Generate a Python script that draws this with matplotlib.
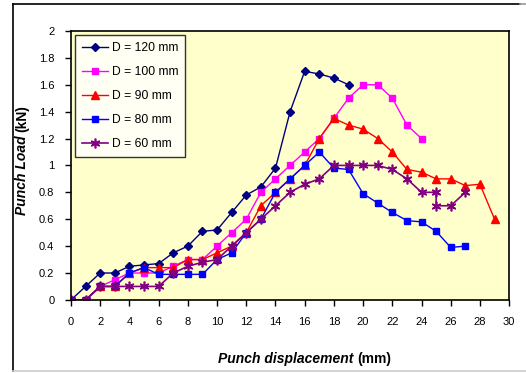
import matplotlib
matplotlib.use("Agg")
import matplotlib.pyplot as plt
from matplotlib.lines import Line2D

# displacement (mm) and punch load (kN) per punch diameter
x_120 = list(range(0, 20))
y_120 = [0, 0.1, 0.2, 0.2, 0.25, 0.26, 0.27, 0.35, 0.4, 0.51, 0.52, 0.65, 0.78, 0.84, 0.98, 1.4, 1.7, 1.68, 1.65, 1.6]

x_100 = list(range(0, 25))
y_100 = [0, 0, 0.1, 0.15, 0.2, 0.2, 0.2, 0.25, 0.3, 0.3, 0.4, 0.5, 0.6, 0.8, 0.9, 1.0, 1.1, 1.2, 1.35, 1.5, 1.6, 1.6, 1.5, 1.3, 1.2]

x_90 = list(range(0, 30))
y_90 = [0, 0, 0.1, 0.1, 0.2, 0.24, 0.24, 0.24, 0.3, 0.3, 0.35, 0.4, 0.5, 0.7, 0.8, 0.9, 1.0, 1.2, 1.35, 1.3, 1.27, 1.2, 1.1, 0.97, 0.95, 0.9, 0.9, 0.85, 0.86, 0.6]

x_80 = list(range(0, 28))
y_80 = [0, 0, 0.1, 0.1, 0.2, 0.24, 0.19, 0.19, 0.19, 0.19, 0.3, 0.35, 0.5, 0.6, 0.8, 0.9, 1.0, 1.1, 0.98, 0.97, 0.79, 0.72, 0.65, 0.59, 0.58, 0.51, 0.39, 0.4]

x_60 = [0, 1, 2, 3, 4, 5, 6, 7, 8, 9, 10, 11, 12, 13, 14, 15, 16, 17, 18, 19, 20, 21, 22, 23, 24, 25, 25, 26, 27]
y_60 = [0, 0, 0.1, 0.1, 0.1, 0.1, 0.1, 0.2, 0.25, 0.28, 0.3, 0.4, 0.5, 0.6, 0.7, 0.8, 0.86, 0.9, 1.0, 1.0, 1.0, 1.0, 0.97, 0.9, 0.8, 0.8, 0.7, 0.7, 0.8]

x_ticks = list(range(0, 31, 2))
y_ticks = [0, 0.2, 0.4, 0.6, 0.8, 1, 1.2, 1.4, 1.6, 1.8, 2]
y_tick_labels = ["0", "0.2", "0.4", "0.6", "0.8", "1", "1.2", "1.4", "1.6", "1.8", "2"]

plt.rcParams['font.family'] = ['Liberation Sans', 'DejaVu Sans']

fig = plt.figure(figsize=(5.26, 3.73), dpi=100)
ax = fig.add_axes([0.135, 0.196, 0.833, 0.721])
ax.set_facecolor('#FFFFCC')

ax.plot(x_120, y_120, color='#000080', marker='D', markersize=4, lw=1, label='D = 120 mm')
ax.plot(x_100, y_100, color='#FF00FF', marker='s', markersize=5, lw=1, label='D = 100 mm')
ax.plot(x_90, y_90, color='#FF0000', marker='^', markersize=6, lw=1, label='D = 90 mm')
ax.plot(x_80, y_80, color='#0000FF', marker='s', markersize=5, lw=1, label='D = 80 mm')
ax.plot(x_60, y_60, color='#800080', marker=(6, 2, 0), markersize=7, mew=1.2, lw=1.2, label='D = 60 mm')

ax.set_xlim(0, 30)
ax.set_ylim(0, 2)
ax.set_xticks(x_ticks)
ax.set_yticks(y_ticks)
ax.set_yticklabels(y_tick_labels)
ax.tick_params(direction='out', length=4, width=1, labelsize=8, pad=8)
for s in ax.spines.values():
    s.set_color('black')
    s.set_linewidth(1.2)

# axis titles: italic words followed by upright unit
t1 = fig.text(357 / 526, 1 - 363 / 373, 'Punch displacement ', fontsize=10, fontweight='bold',
              fontstyle='italic', ha='right', va='baseline')
ax.annotate('(mm)', xy=(1, 0), xycoords=t1, fontsize=10, fontweight='bold', ha='left', va='bottom')

t2 = fig.text(22 / 526, 1 - 215 / 373, 'Punch Load ', fontsize=10, fontweight='bold', fontstyle='italic',
              rotation=90, ha='center', va='bottom')
ax.annotate('(kN)', xy=(0, 1), xycoords=t2, fontsize=10, fontweight='bold', rotation=90,
            ha='left', va='bottom')

leg = ax.legend(loc='upper left', bbox_to_anchor=(0, 1), borderaxespad=0.35, fontsize=8.7, frameon=True,
                fancybox=False, edgecolor='black', handlelength=2.2, labelspacing=1.0,
                borderpad=0.55, handletextpad=0.3)
leg.get_frame().set_linewidth(1)

# outer chart border
fig.add_artist(Line2D([12.5 / 526, 12.5 / 526], [1 - 4 / 373, 1 - 371 / 373], transform=fig.transFigure,
                      color='black', lw=1.2))
fig.add_artist(Line2D([12.5 / 526, 520 / 526], [1 - 4 / 373, 1 - 4 / 373], transform=fig.transFigure,
                      color='black', lw=1.2))
fig.add_artist(Line2D([520 / 526, 526 / 526], [1 - 4 / 373, 1 - 4 / 373], transform=fig.transFigure,
                      color='#999999', lw=1.2))
fig.add_artist(Line2D([12.5 / 526, 526 / 526], [1 - 371 / 373, 1 - 371 / 373], transform=fig.transFigure,
                      color='#cccccc', lw=1.2))

fig.savefig('out.png', dpi=100)
